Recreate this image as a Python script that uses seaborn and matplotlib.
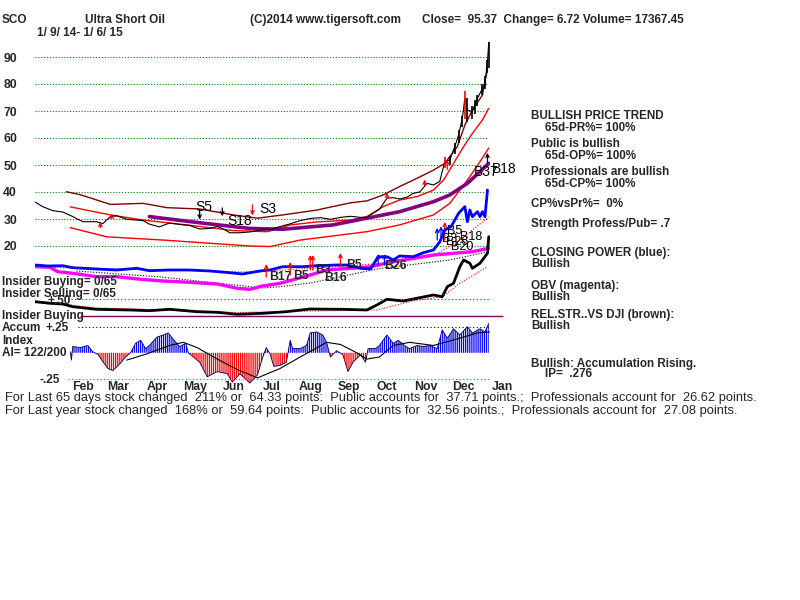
import numpy as np
import pandas as pd
import matplotlib
matplotlib.use("Agg")
import matplotlib.pyplot as plt
import seaborn as sns

sns.set_theme(style="white")
plt.rcParams["font.family"] = ["Liberation Sans", "DejaVu Sans"]
plt.rcParams["hatch.linewidth"] = 0.9

# ---------------- data (x = calendar days since 2014-01-09) ----------------
price_days = [0, 6, 14, 22, 30, 38, 49, 54, 60, 65, 73, 81, 86, 91, 99, 107, 115, 123, 131, 139,
              145, 150, 155, 163, 171, 179, 187, 195, 203, 211, 219, 227, 235, 243, 251, 259, 264,
              269, 274, 280, 285, 290, 296, 301, 306, 312, 317, 322, 326, 330, 334, 337, 340, 342,
              344, 348, 350, 352, 356, 358, 360, 361]
price_close = [36.3, 34.6, 33.1, 32.6, 30.9, 29.0, 29.0, 28.3, 30.9, 31.2, 29.9, 29.6, 29.4, 28.1,
               27.1, 28.5, 28.0, 27.6, 26.3, 26.5, 27.2, 26.3, 24.9, 24.9, 25.2, 25.9, 26.1, 27.2,
               28.2, 29.4, 30.2, 30.5, 29.9, 30.6, 31.0, 30.6, 30.6, 32.1, 33.6, 37.7, 37.9, 37.4,
               38.1, 39.5, 40.0, 43.2, 42.6, 43.9, 51.2, 51.9, 56.8, 61.1, 67.3, 74.7, 70.4, 69.7,
               72.5, 74.7, 78.4, 80.3, 88.3, 95.4]
bar_days = [326, 330, 334, 337, 340, 342, 344, 348, 350, 352, 356, 358, 360, 361]
bar_high = [53.0, 53.5, 58.0, 63.0, 68.0, 77.5, 75.0, 72.0, 74.0, 76.0, 80.0, 83.0, 89.0, 95.4]
bar_low = [49.0, 50.0, 54.0, 58.0, 64.0, 67.0, 66.0, 67.0, 69.0, 72.0, 76.0, 78.0, 84.0, 86.0]
bar_color = ["red", "black", "black", "black", "black", "red", "black", "black", "black", "black",
             "black", "black", "black", "black"]

upper_days = [25, 36, 60, 86, 105, 131, 158, 177, 197, 224, 251, 264, 277, 290, 304, 317, 326,
              336, 342, 348, 356, 360]
upper_band = [40.1, 39.0, 35.4, 35.8, 34.2, 33.7, 31.5, 30.3, 31.5, 33.3, 36.0, 36.7, 38.9, 42.0,
              45.1, 48.1, 50.6, 56.8, 64.8, 70.4, 75.9, 85.8]
mid_days = [28, 44, 60, 86, 121, 158, 185, 203, 224, 251, 264, 277, 290, 304, 317, 325, 333, 341,
            348, 356, 361]
mid_band = [34.5, 33.0, 31.5, 29.6, 27.8, 25.7, 25.3, 27.8, 28.9, 29.6, 30.9, 34.6, 37.0, 38.3,
            40.7, 44.4, 50.6, 56.8, 61.7, 66.7, 71.0]
lower_days = [28, 57, 102, 171, 187, 211, 264, 290, 317, 330, 344, 354, 361]
lower_band = [26.8, 23.4, 22.2, 20.0, 19.8, 22.2, 25.3, 27.8, 31.5, 35.8, 44.4, 51.2, 56.3]
ma_days = [91, 131, 171, 197, 237, 264, 290, 317, 330, 344, 354, 361]
ma_price = [30.9, 28.6, 26.5, 26.2, 27.8, 30.3, 32.7, 36.4, 38.9, 43.2, 47.5, 50.6]

# indicators (arbitrary index units)
cp_days = [0, 10, 22, 30, 49, 65, 81, 91, 107, 123, 139, 155, 165, 179, 187, 197, 213, 224, 240,
           248, 259, 267, 273, 280, 285, 290, 301, 309, 317, 322, 326, 331, 337, 342, 344, 346,
           348, 352, 354, 356, 358, 360]
closing_power = [55, 54, 54.3, 52.3, 51, 50, 51.7, 49.3, 50, 50, 49, 47.3, 46, 49, 50, 53.3, 53.3,
                 54.3, 55, 55, 51.7, 51, 63.3, 63.3, 60, 64, 63.3, 67.3, 70, 78, 90, 93.3, 106.7,
                 113.3, 98.3, 110, 103.3, 108.3, 103.3, 108.3, 103.3, 130]
cp_ma_days = [0, 49, 107, 165, 197, 248, 290, 317, 338, 361]
cp_ma = [53, 51.5, 50, 48, 50, 54, 58, 64, 80, 103]
obv_days = [0, 12, 18, 30, 49, 65, 84, 102, 123, 145, 161, 171, 181, 195, 219, 232, 251, 267,
            285, 301, 317, 333, 348, 361]
obv = [53.3, 52.7, 48.3, 46.7, 43.3, 43.3, 40.7, 39, 37.7, 36, 31.7, 30.7, 34, 36.7, 45, 50, 51.7,
       53.3, 58.3, 61.7, 65, 66.7, 68.3, 71.7]
obv_ma_days = [33, 100, 181, 195, 219, 275, 330, 361]
obv_ma = [49, 43, 32, 33.3, 37, 51.7, 60, 68.3]
rs_days = [0, 12, 22, 30, 49, 76, 91, 107, 129, 145, 161, 181, 200, 219, 245, 264, 272, 280, 293,
           306, 317, 324, 328, 333, 338, 341, 346, 348, 354, 360, 361]
rel_strength = [18.3, 16.7, 16, 13.3, 10.7, 10, 9.3, 10.7, 8.3, 7.7, 5.7, 6.7, 8.3, 11, 10.7, 10,
                15, 20.7, 19, 22.3, 25, 23.3, 33.3, 36.7, 53.3, 60, 56.7, 51.7, 56.7, 66.7, 83.3]
rs_ma_days = [0, 49, 107, 161, 219, 272, 301, 324, 338, 360]
rs_ma = [19, 12, 10, 7.5, 9, 10, 19.3, 23.3, 36.7, 53.3]

ai_days = [28, 29, 30, 36, 42, 46, 50, 54, 58, 62, 68, 72, 76, 80, 84, 88, 91, 97, 102, 106, 110,
           115, 120, 122, 126, 131, 137, 145, 153, 157, 163, 171, 177, 181, 184, 187, 190, 195,
           200, 203, 205, 211, 216, 219, 224, 229, 232, 235, 240, 245, 249, 253, 259, 263, 265,
           271, 274, 280, 285, 289, 294, 298, 304, 309, 314, 320, 324, 328, 333, 338, 344, 348,
           354, 358, 361]
accum_index = [0.01, -0.07, 0.06, 0.05, 0.07, 0.01, -0.015, -0.085, -0.15, -0.17, -0.10, -0.04,
               0.0, 0.09, 0.12, 0.04, 0.07, 0.15, 0.17, 0.19, 0.13, 0.06, 0.09, 0.0, -0.04, -0.09,
               -0.23, -0.18, -0.2, -0.28, -0.2, -0.29, -0.21, -0.05, 0.05, -0.01, -0.13, -0.12,
               -0.09, 0.12, 0.04, 0.04, 0.07, 0.19, 0.2, 0.17, 0.1, -0.04, 0.02, -0.02, -0.18,
               -0.09, -0.02, -0.09, 0.04, 0.04, 0.07, 0.17, 0.09, 0.12, 0.07, 0.04, 0.07, 0.06,
               0.07, 0.04, 0.22, 0.14, 0.23, 0.17, 0.25, 0.19, 0.23, 0.2, 0.28]
ai_ma_days = [73, 89, 107, 118, 129, 145, 161, 177, 195, 211, 232, 243, 256, 264, 274, 285, 298,
              317, 338, 352, 362]
ai_ma = [-0.07, -0.01, 0.07, 0.1, 0.05, -0.06, -0.16, -0.24, -0.15, -0.04, 0.1, 0.08, 0.0, -0.06,
         -0.04, 0.07, 0.1, 0.07, 0.14, 0.19, 0.2]

months = ["Feb", "Mar", "Apr", "May", "Jun", "Jul", "Aug", "Sep", "Oct", "Nov", "Dec", "Jan"]
month_dates = ["2014-02-16", "2014-03-16", "2014-04-16", "2014-05-16", "2014-06-16", "2014-07-16",
               "2014-08-16", "2014-09-16", "2014-10-16", "2014-11-16", "2014-12-16", "2015-01-16"]
price_ticks = [20, 30, 40, 50, 60, 70, 80, 90]

# signals: (label, day, value, fontsize)  and arrows: (day, tail, head, color)
price_signals = [("S5", 134, 34.4, 10), ("S18", 163, 29.3, 10), ("S3", 185, 33.7, 10),
                 ("B37", 359, 47.4, 10), ("B18", 373, 48.5, 10), ("B5", 334, 25.4, 9),
                 ("B3", 330, 22.6, 9), ("B18", 347, 23.4, 9), ("B20", 340, 19.8, 9),
                 ("B26", 336, 21.4, 9)]
price_arrows = [(131, 33.5, 29.8, "black"), (149, 34.1, 31.0, "black"), (173, 35.2, 31.3, "red"),
                (52, 26.8, 29.0, "red"), (61, 30.2, 32.0, "red"), (280, 37.6, 39.8, "red"),
                (310, 42.4, 44.6, "red"), (328, 48.3, 52.0, "red"), (360, 50.5, 54.5, "black"),
                (326, 22.2, 28.9, "red"), (320, 22.2, 26.7, "blue"), (323, 22.8, 27.3, "blue")]
ind_signals = [("B17", 195, 43), ("B5", 212, 44), ("B3", 229, 50), ("B16", 239, 42),
               ("B5", 254, 55), ("B26", 287, 54)]
ind_arrows = [(184, 43, 56, "red"), (203, 45, 58, "red"), (219, 50, 65, "red"),
              (221, 50, 65, "red"), (243, 53, 67, "red"), (273, 55, 66, "blue"),
              (278, 55, 66, "blue")]

# ---------------- figure ----------------
W, H = 800, 600
fig = plt.figure(figsize=(8, 6), dpi=100)
fig.patch.set_facecolor("white")
XL, XR = 35, 490
XLIM = (0, 362)


def add_ax(top_px, bot_px):
    ax = fig.add_axes([XL / W, 1 - bot_px / H, (XR - XL) / W, (bot_px - top_px) / H])
    ax.set_facecolor("none")
    ax.set_xlim(*XLIM)
    for s in ax.spines.values():
        s.set_visible(False)
    ax.set_xticks([])
    ax.set_yticks([])
    return ax


def ftext(x, y, s, **kw):
    kw.setdefault("fontsize", 8.5)
    kw.setdefault("fontweight", "bold")
    kw.setdefault("va", "center")
    fig.text(x / W, 1 - y / H, s, **kw)


# ---- price panel ----
axp = add_ax(30, 300)
axp.set_ylim(0, 100)
axp.hlines(price_ticks, -2, 360, colors="#008000", linestyles=(0, (1, 1.6)), lw=0.8)
axp.set_yticks(price_ticks)
axp.set_yticklabels([str(t) for t in price_ticks], fontsize=8.8, fontweight="bold")
axp.tick_params(axis="y", length=0, pad=13)
sns.lineplot(x=upper_days, y=upper_band, ax=axp, color="#800000", lw=1.0)
sns.lineplot(x=mid_days, y=mid_band, ax=axp, color="#ff0000", lw=1.0)
sns.lineplot(x=lower_days, y=lower_band, ax=axp, color="#ff0000", lw=1.0)
sns.lineplot(x=ma_days, y=ma_price, ax=axp, color="#800080", lw=2.6)
sns.lineplot(x=price_days, y=price_close, ax=axp, color="black", lw=0.8)
axp.vlines(bar_days, bar_low, bar_high, colors=bar_color, lw=1.2)
for lab, d, v, fs in price_signals:
    axp.text(d, v, lab, fontsize=fs, ha="center", va="center", color="black")
for d, t, h, c in price_arrows:
    axp.annotate("", xy=(d, h), xytext=(d, t),
                 arrowprops=dict(arrowstyle="->", color=c, lw=0.9, shrinkA=0, shrinkB=0,
                                 mutation_scale=6))
axp.set_xlabel("")
axp.set_ylabel("")

# ---- indicator panel ----
axi = add_ax(180, 320)
axi.set_ylim(0, 140)
axi.hlines([20.7], 29, 361, colors="#a00000", linestyles=(0, (1, 2.2)), lw=0.8)
axi.hlines([4.3], 36, 372, colors="#800060", lw=1.0, clip_on=False)
sns.lineplot(x=cp_ma_days, y=cp_ma, ax=axi, color="#ff0000", lw=0.8, linestyle=(0, (1, 1.5)))
sns.lineplot(x=obv_ma_days, y=obv_ma, ax=axi, color="black", lw=0.8, linestyle=(0, (1, 1.5)))
sns.lineplot(x=rs_ma_days, y=rs_ma, ax=axi, color="#ff0000", lw=0.8, linestyle=(0, (1, 1.5)))
sns.lineplot(x=obv_days, y=obv, ax=axi, color="#ff00ff", lw=2.4)
sns.lineplot(x=cp_days, y=closing_power, ax=axi, color="#0000ff", lw=2.0)
sns.lineplot(x=rs_days, y=rel_strength, ax=axi, color="black", lw=2.0)
for lab, d, v in ind_signals:
    axi.text(d, v, lab, fontsize=8.8, fontweight="bold", ha="center", va="center")
for d, t, h, c in ind_arrows:
    axi.annotate("", xy=(d, h), xytext=(d, t),
                 arrowprops=dict(arrowstyle="->", color=c, lw=0.9, shrinkA=0, shrinkB=0,
                                 mutation_scale=6))
axi.set_xlabel("")
axi.set_ylabel("")

# ---- accumulation index panel ----
axa = add_ax(316, 392)
axa.set_ylim(-0.375, 0.352)
ai = np.array(accum_index)
axa.fill_between(ai_days, 0, ai, where=ai >= 0, interpolate=True, facecolor="white",
                 edgecolor="#0000ff", hatch="|" * 8, lw=0)
axa.fill_between(ai_days, 0, ai, where=ai <= 0, interpolate=True, facecolor="white",
                 edgecolor="#ff0000", hatch="|" * 8, lw=0)
sns.lineplot(x=ai_days, y=accum_index, ax=axa, color="#000050", lw=0.6)
sns.lineplot(x=ai_ma_days, y=ai_ma, ax=axa, color="black", lw=0.8)
axa.hlines([0.25], 34, 362, colors="black", linestyles=(0, (1, 2.2)), lw=0.8)
axa.hlines([-0.25], 26, 362, colors="#d04040", linestyles=(0, (1, 2.2)), lw=0.8)
start = pd.Timestamp("2014-01-09")
for m, md in zip(months, month_dates):
    d = (pd.Timestamp(md) - start).days
    axa.text(d, -0.33, m, fontsize=8.8, fontweight="bold", ha="center", va="center",
             clip_on=False)
axa.set_xlabel("")
axa.set_ylabel("")

# ---- header and labels ----
ftext(2, 20, "SCO")
ftext(85, 20, "Ultra Short Oil")
ftext(250, 20, "(C)2014 www.tigersoft.com")
ftext(422, 20, "Close=  95.37  Change= 6.72 Volume= 17367.45")
ftext(37, 33, "1/ 9/ 14- 1/ 6/ 15")

ftext(2, 282, "Insider Buying= 0/65")
ftext(2, 294, "Insider Selling= 0/65")
ftext(48, 301, "+.50")
ftext(2, 316, "Insider Buying")
ftext(2, 328, "Accum")
ftext(45, 328, "+.25")
ftext(2, 341, "Index")
ftext(2, 353, "AI= 122/200")
ftext(40, 380, "-.25")

right = [(531, 116, "BULLISH PRICE TREND"), (545, 128, "65d-PR%= 100%"),
         (531, 144, "Public is bullish"), (545, 156, "65d-OP%= 100%"),
         (531, 172, "Professionals are bullish"), (545, 184, "65d-CP%= 100%"),
         (531, 204, "CP%vsPr%=  0%"), (531, 224, "Strength Profess/Pub= .7"),
         (531, 253, "CLOSING POWER (blue):"), (531, 264, "Bullish"),
         (531, 286, "OBV (magenta):"), (531, 297, "Bullish"),
         (531, 315, "REL.STR..VS DJI (brown):"), (531, 326, "Bullish"),
         (531, 364, "Bullish: Accumulation Rising."), (545, 374, "IP=  .276")]
for x, y, s in right:
    ftext(x, y, s, fontsize=8.4)

ftext(5, 398, "For Last 65 days stock changed  211% or  64.33 points:  Public accounts for  "
      "37.71 points.;  Professionals account for  26.62 points.", fontsize=9.3,
      fontweight="normal")
ftext(5, 411, "For Last year stock changed  168% or  59.64 points:  Public accounts for  "
      "32.56 points.;  Professionals account for  27.08 points.", fontsize=9.3,
      fontweight="normal")

fig.savefig("out.png", dpi=100, facecolor="white")
